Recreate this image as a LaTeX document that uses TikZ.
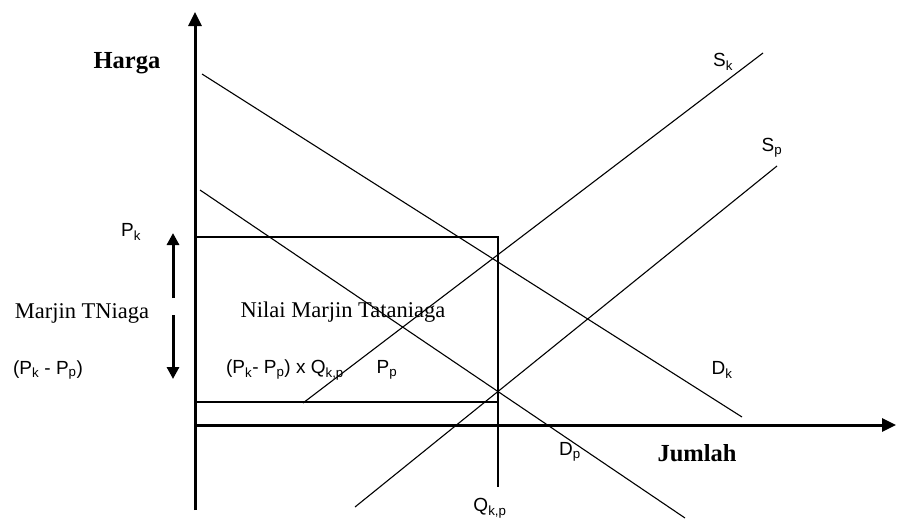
\documentclass[tikz,border=0pt]{standalone}
\usepackage{fontspec}
\setmainfont{Liberation Serif}
\newfontfamily\lbsans{Liberation Sans}
\usetikzlibrary{arrows.meta}
\tikzset{
  axisline/.style={line width=3pt,-{Triangle[length=14pt,width=13pt]}},
  boxline/.style={line width=1.4pt},
  curve/.style={line width=1.1pt},
  marrow/.style={line width=3pt,-{Triangle[length=12pt,width=12pt]}},
  serlab/.style={inner sep=0pt,font=\fontsize{22.5}{25}\selectfont},
  boldlab/.style={inner sep=0pt,font=\fontsize{24.5}{27}\selectfont\bfseries},
  sanslab/.style={inner sep=0pt,font=\fontsize{19}{22}\selectfont\lbsans},
}
\begin{document}
\begin{tikzpicture}[x=1pt,y=-1pt]
\useasboundingbox (0,0) rectangle (897,520);
% axes
\coordinate (ybot) at (195,510);
\coordinate (ytop) at (195,12);
\coordinate (xleft) at (194,425);
\coordinate (xright) at (896,425);
\draw[axisline] (ybot) -- (ytop);
\draw[axisline] (xleft) -- (xright);
% price/quantity box
\coordinate (pkl) at (195,237);
\coordinate (pkr) at (498,237);
\coordinate (qbot) at (498,487);
\coordinate (ppl) at (195,402);
\coordinate (ppr) at (498,402);
\draw[boxline] (pkl) -- (pkr) -- (qbot);
\draw[boxline] (ppl) -- (ppr);
% demand and supply lines
\coordinate (dk1) at (202,74);
\coordinate (dk2) at (742,417);
\coordinate (dp1) at (200,190);
\coordinate (dp2) at (685,518);
\coordinate (sk1) at (303,403);
\coordinate (sk2) at (763,53);
\coordinate (sp1) at (355,507);
\coordinate (sp2) at (777,166);
\draw[curve] (dk1) -- (dk2);
\draw[curve] (dp1) -- (dp2);
\draw[curve] (sk1) -- (sk2);
\draw[curve] (sp1) -- (sp2);
% margin arrows
\coordinate (ua1) at (173,298);
\coordinate (ua2) at (173,233);
\coordinate (da1) at (173,315);
\coordinate (da2) at (173,379);
\draw[marrow] (ua1) -- (ua2);
\draw[marrow] (da1) -- (da2);
% labels
\node[boldlab] (harga) at (127,63) {Harga};
\node[boldlab] (jumlah) at (697,453) {Jumlah};
\node[sanslab] (pk) at (131,232) {P\textsubscript{k}};
\node[serlab] (mt) at (82,313) {Marjin TNiaga};
\node[sanslab] (pkpp) at (48,370) {(P\textsubscript{k} - P\textsubscript{p})};
\node[serlab] (nmt) at (343,312) {Nilai Marjin Tataniaga};
\node[sanslab] (form) at (285,370) {(P\textsubscript{k}- P\textsubscript{p}) x Q\textsubscript{k,p}};
\node[sanslab] (pp) at (387,370) {P\textsubscript{p}};
\node[sanslab] (dk) at (722,370) {D\textsubscript{k}};
\node[sanslab] (dp) at (570,452) {D\textsubscript{p}};
\node[sanslab] (qkp) at (490,508) {Q\textsubscript{k,p}};
\node[sanslab] (sk) at (723,62) {S\textsubscript{k}};
\node[sanslab] (sp) at (772,148) {S\textsubscript{p}};
\end{tikzpicture}
\end{document}
